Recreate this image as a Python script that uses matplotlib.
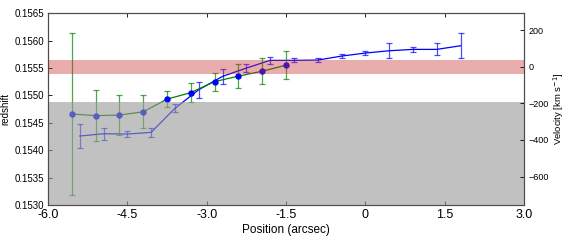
import matplotlib
matplotlib.use("Agg")
import matplotlib.pyplot as plt
import numpy as np

plt.rcParams["font.family"] = ["Liberation Sans", "DejaVu Sans"]
plt.rcParams["mathtext.fontset"] = "dejavusans"

# green series (with markers)
pos_g = [-5.55, -5.1, -4.65, -4.2, -3.75, -3.3, -2.85, -2.4, -1.95, -1.5]
z_g = [0.15466, 0.15463, 0.15464, 0.15470, 0.15493, 0.15505, 0.15525, 0.15535, 0.15544, 0.15555]
err_g = [0.00147, 0.00047, 0.00037, 0.00030, 0.00015, 0.000175, 0.000165, 0.00022, 0.00024, 0.00025]

# blue series
pos_b = [-5.4, -4.95, -4.5, -4.05, -3.6, -3.15, -2.7, -2.25, -1.8, -1.35,
         -0.9, -0.45, 0.0, 0.45, 0.9, 1.35, 1.8]
z_b = [0.154258, 0.154300, 0.154294, 0.154325, 0.154763, 0.155102, 0.155346,
       0.155497, 0.155638, 0.155638, 0.155643, 0.155716, 0.155771, 0.155813,
       0.155838, 0.155838, 0.155904]
err_b = [0.00022, 0.00011, 0.00006, 0.00008, 0.00007, 0.000146, 0.000142,
         0.000073, 0.00006, 0.000036, 0.00004, 0.000034, 0.000042, 0.000137,
         0.000051, 0.00011, 0.00023]

z_sys = 0.15552
sys_halfwidth = 0.000128
z_gray_top = 0.154872
c_kms = 299792.458

xticks = [-6.0, -4.5, -3.0, -1.5, 0, 1.5, 3.0]
xticklabels = ["-6.0", "-4.5", "-3.0", "-1.5", "0", "1.5", "3.0"]
yticks = [0.1530, 0.1535, 0.1540, 0.1545, 0.1550, 0.1555, 0.1560, 0.1565]
vticks = [-600, -400, -200, 0, 200]

fig = plt.figure(figsize=(5.68, 2.47), dpi=100)
ax = fig.add_axes([0.0845, 0.17, 0.838, 0.777])

eb_b = ax.errorbar(pos_b, z_b, yerr=err_b, color="b", lw=0.9, elinewidth=0.9,
                   capsize=2.5, capthick=0.9, zorder=2)
eb_g = ax.errorbar(pos_g, z_g, yerr=err_g, color="g", lw=0.9, elinewidth=0.9,
                   capsize=2.5, capthick=0.9, marker="o", ms=3.6, mfc="b", mec="b",
                   zorder=2.2)
# error bars look a bit faded in the original
for eb in (eb_b, eb_g):
    for cap in eb[1]:
        cap.set_alpha(0.7)
    for col in eb[2]:
        col.set_alpha(0.7)

ax.axhspan(z_sys - sys_halfwidth, z_sys + sys_halfwidth, color="#c83232",
           alpha=0.4, lw=0, zorder=3)
ax.axhspan(0.1530, z_gray_top, color="0.6", alpha=0.6, lw=0, zorder=3)

ax.set_xlim(-6.0, 3.0)
ax.set_ylim(0.1530, 0.1565)
ax.set_xticks(xticks)
ax.set_xticklabels(xticklabels, fontsize=9)
ax.set_yticks(yticks)
ax.set_yticklabels([f"{v:.4f}" for v in yticks], fontsize=7)
ax.tick_params(direction="in", top=True, right=True, length=3, width=0.6, pad=3)
ax.set_xlabel("Position (arcsec)", fontsize=8.5, labelpad=2)
ax.set_ylabel("redshift", fontsize=7, labelpad=3)
for s in ax.spines.values():
    s.set_color("0.3")

ax2 = ax.twinx()
ax2.set_ylim((0.1530 - z_sys) * c_kms, (0.1565 - z_sys) * c_kms)
ax2.set_yticks(vticks)
ax2.tick_params(direction="in", labelsize=6.5, length=3, width=0.6, pad=3)
ax2.set_ylabel("Velocity [km s$^{-1}$]", fontsize=6.8, labelpad=2)
for s in ax2.spines.values():
    s.set_color("0.3")

fig.savefig("out.png", dpi=100)
